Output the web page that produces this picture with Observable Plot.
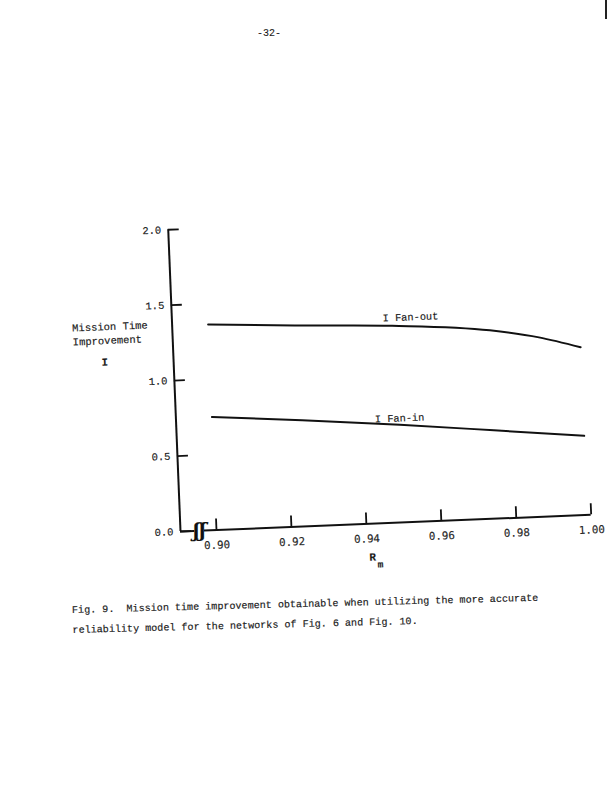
<!DOCTYPE html>
<html>
<head>
<meta charset="utf-8">
<script src="https://cdn.jsdelivr.net/npm/d3@7"></script>
<script src="https://cdn.jsdelivr.net/npm/@observablehq/plot@0.6"></script>
<style>
  html, body { margin: 0; padding: 0; background: #fff; overflow: hidden; }
  body { width: 612px; height: 791px; position: relative; font-family: "Liberation Mono", monospace; color: #1a1a1a; }
  #page-no { position: absolute; left: 257px; top: 28px; font-size: 10px; -webkit-text-stroke: 0.1px #1a1a1a; }
  #edge { position: absolute; left: 605px; top: 0; width: 2px; height: 19px; background: #222; }
  #chart { position: absolute; left: 40px; top: 200px; width: 571px; transform-origin: 140px 331px; transform: rotate(-2.33deg); }
  #chart text { stroke: #1a1a1a; stroke-width: 0.15px; }
  #caption { position: absolute; left: 72px; top: 601px; font-size: 10.1px; line-height: 20px; white-space: pre; transform-origin: 0 10px; transform: rotate(-1.5deg); -webkit-text-stroke: 0.15px #1a1a1a; }
</style>
</head>
<body>
<div id="page-no">-32-</div>
<div id="edge"></div>
<div id="chart"></div>
<div id="caption">Fig. 9.  Mission time improvement obtainable when utilizing the more accurate
reliability model for the networks of Fig. 6 and Fig. 10.</div>
<script>
// Module reliability R_m and mission time improvement I for the two networks
const rmOut  = [0.900, 0.923, 0.949, 0.975, 0.988, 0.999];
const fanOut = [1.362, 1.332, 1.304, 1.248, 1.188, 1.111];
const rmIn   = [0.900, 0.924, 0.950, 0.975, 0.999];
const fanIn  = [0.749, 0.703, 0.647, 0.585, 0.524];

const xTicks = [0.90, 0.92, 0.94, 0.96, 0.98, 1.00];
const yTicks = [0.0, 0.5, 1.0, 1.5, 2.0];
const seriesNames = ["I Fan-out", "I Fan-in"];
const yTitle = ["Mission Time", "Improvement", "I"];
const xTitle = ["R", "m"];

// Plot geometry
const width = 571, height = 391;
const marginLeft = 140, marginRight = 20, marginTop = 29, marginBottom = 60;
const plotW = width - marginLeft - marginRight;
const plotH = height - marginTop - marginBottom;
const xMin = 0.8904, xMax = 1.0;
const breakAt = 0.8955;

const outData = rmOut.map((x, i) => ({x, y: fanOut[i]}));
const inData = rmIn.map((x, i) => ({x, y: fanIn[i]}));

// value of a series at a given R_m, used to sit each name just above its curve
const at = (xs, ys, x) => {
  const i = Math.max(1, d3.bisectLeft(xs, x));
  const t = (x - xs[i - 1]) / (xs[i] - xs[i - 1]);
  return ys[i - 1] + t * (ys[i] - ys[i - 1]);
};

const ink = "#111";
const textInk = "#1a1a1a";

const chart = Plot.plot({
  width, height, marginLeft, marginRight, marginTop, marginBottom,
  x: {domain: [xMin, xMax], axis: null},
  y: {domain: [0, 2], axis: null},
  style: {fontFamily: "Liberation Mono, monospace", fontSize: "10.5px", color: textInk, background: "transparent", overflow: "visible"},
  marks: [
    // axis lines, with a break in the R_m axis
    Plot.ruleX([xMin], {y1: 0, y2: 2, stroke: ink, strokeWidth: 2}),
    Plot.ruleY([0], {x1: xMin, x2: breakAt - 0.0013, stroke: ink, strokeWidth: 2}),
    Plot.ruleY([0], {x1: breakAt + 0.0013, x2: xMax, stroke: ink, strokeWidth: 2}),
    Plot.text(["ʃʃ"], {x: () => breakAt, y: () => 0, fontFamily: "DejaVu Serif", fontSize: 19, fontStyle: "italic", fill: ink, fontWeight: "bold"}),
    // inward ticks
    Plot.ruleY(yTicks, {y: d => d, insetRight: plotW - 11, stroke: ink, strokeWidth: 1.8}),
    Plot.ruleX(xTicks, {x: d => d, insetTop: plotH - 11, stroke: ink, strokeWidth: 1.8}),
    // tick labels
    Plot.axisY(yTicks, {tickSize: 0, tickPadding: 7, tickFormat: d3.format(".1f"), fontSize: 10.5, fontFamily: "Liberation Mono", fill: textInk, label: null}),
    Plot.axisX(xTicks, {tickSize: 0, tickPadding: 11, tickFormat: d3.format(".2f"), fontSize: 10.8, fontFamily: "DejaVu Sans Mono", fill: "#2a2a2a", label: null}),
    // axis titles
    Plot.text([yTitle[0] + "\n" + yTitle[1]], {frameAnchor: "left", y: () => 1.336, dx: -100, textAnchor: "start", lineHeight: 1.33, fontSize: 10.5, fill: textInk}),
    Plot.text([yTitle[2]], {frameAnchor: "left", y: () => 1.14, dx: -72, fontSize: 10.5, fontWeight: "bold", fill: textInk}),
    Plot.text([xTitle[0]], {x: () => 0.9413, frameAnchor: "bottom", dy: 37, fontSize: 11, fontWeight: "bold", fill: textInk}),
    Plot.text([xTitle[1]], {x: () => 0.9413, frameAnchor: "bottom", dx: 7.5, dy: 44, fontSize: 9.5, fontWeight: "bold", fill: textInk}),
    // curves
    Plot.line(outData, {x: "x", y: "y", curve: "monotone-x", stroke: ink, strokeWidth: 2}),
    Plot.line(inData, {x: "x", y: "y", curve: "monotone-x", stroke: ink, strokeWidth: 2}),
    Plot.text([seriesNames[0]], {x: () => 0.954, y: () => at(rmOut, fanOut, 0.954), dy: -9.5, fontSize: 10.3, fill: textInk}),
    Plot.text([seriesNames[1]], {x: () => 0.950, y: () => at(rmIn, fanIn, 0.950), dy: -6.5, fontSize: 10.3, fill: textInk})
  ]
});

document.getElementById("chart").appendChild(chart);
</script>
</body>
</html>
